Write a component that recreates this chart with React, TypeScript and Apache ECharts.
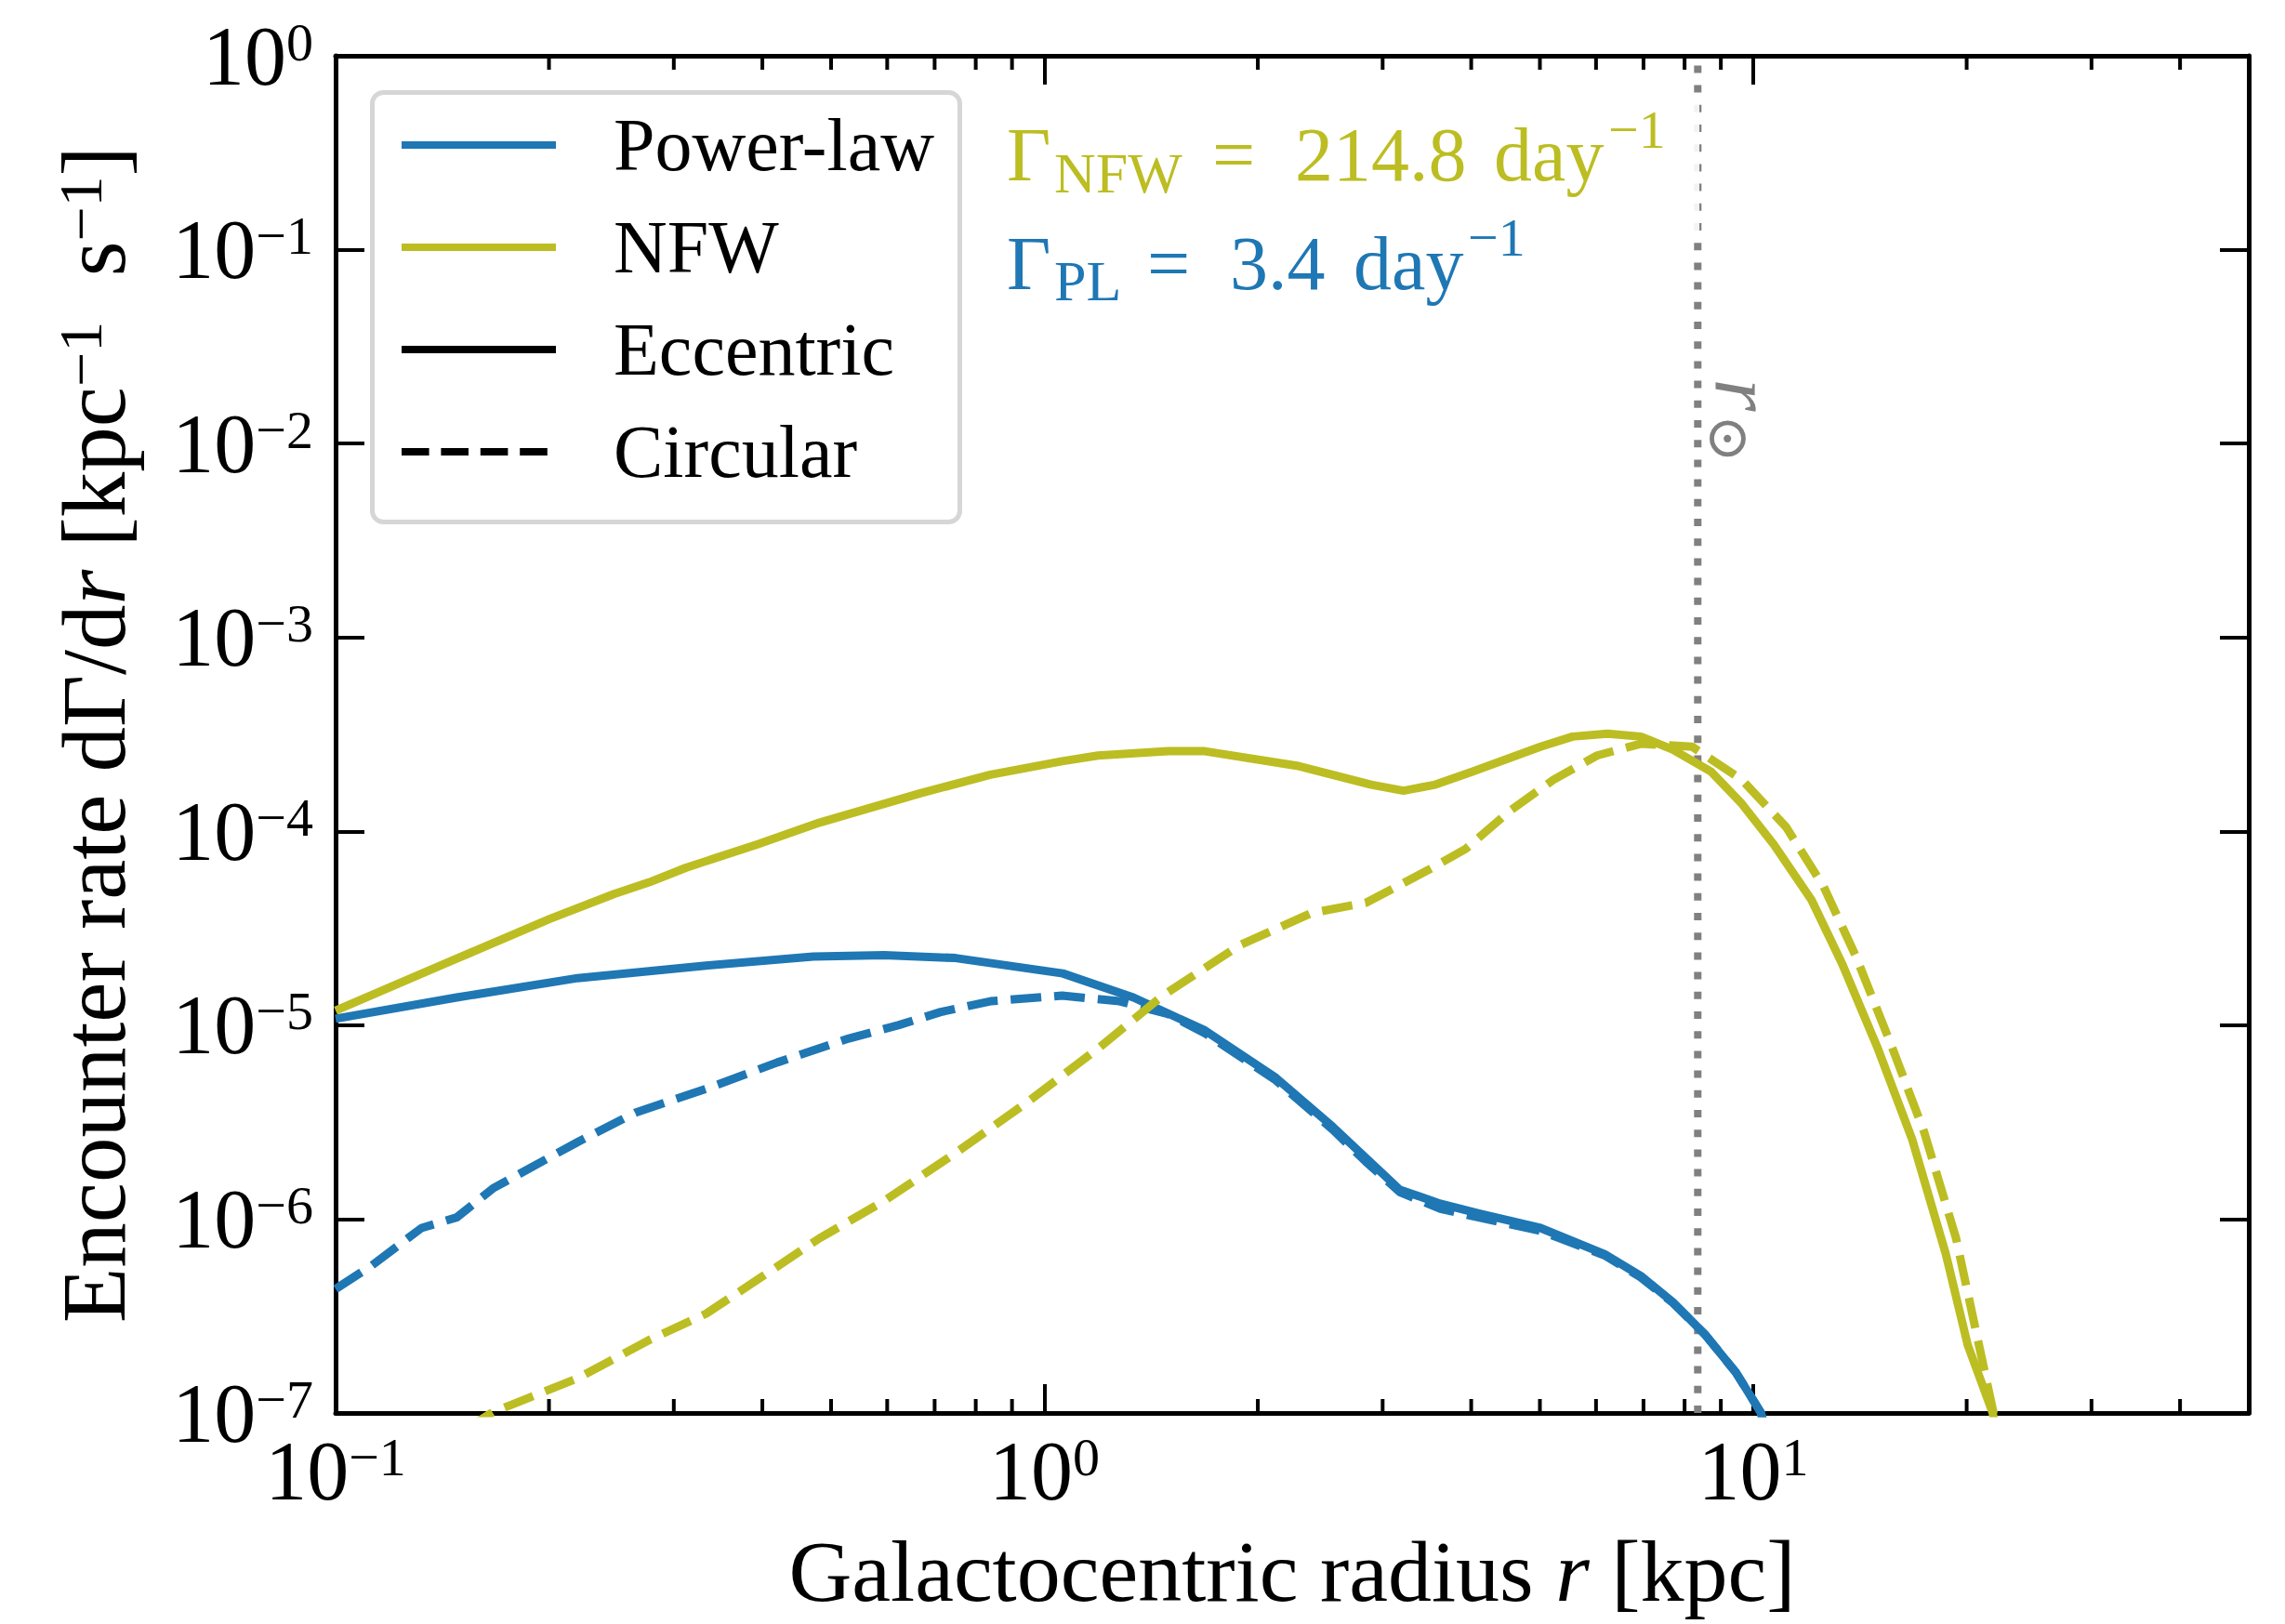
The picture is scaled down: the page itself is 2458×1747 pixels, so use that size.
import React, { useEffect, useRef } from 'react';
import * as echarts from 'echarts';

const FONT = '"Liberation Serif", "DejaVu Serif", serif';
const BLUE = '#1f77b4';
const OLIVE = '#bcbd22';

// ---- data (r in kpc, rate in kpc^-1 s^-1) ----
const R_PL_ECC = [0.1, 0.1482, 0.2196, 0.333, 0.472, 0.594, 0.749, 1.061, 1.335, 1.684, 2.12, 2.55, 2.84, 3.17, 3.62, 4.1, 5.01, 6.17, 6.94, 7.7, 8.54, 9.45, 10.24, 10.49];
const V_PL_ECC = [1.08e-5, 1.39e-5, 1.75e-5, 2.03e-5, 2.26e-5, 2.3e-5, 2.22e-5, 1.85e-5, 1.39e-5, 9.4e-6, 5.36e-6, 3.0e-6, 2.07e-6, 1.42e-6, 1.2e-6, 1.07e-6, 9.0e-7, 6.6e-7, 5.09e-7, 3.73e-7, 2.55e-7, 1.62e-7, 1.01e-7, 7.6e-8];

const R_PL_CIRC = [0.1, 0.1126, 0.1322, 0.1482, 0.1667, 0.2196, 0.2647, 0.333, 0.42, 0.53, 0.622, 0.714, 0.839, 1.059, 1.276, 1.496, 1.684, 2.12, 2.55, 2.84, 3.17, 3.62, 4.1, 5.01, 6.17, 6.94, 7.7, 8.54, 9.45, 10.24, 10.49];
const V_PL_CIRC = [4.36e-7, 5.78e-7, 9.0e-7, 1.02e-6, 1.44e-6, 2.5e-6, 3.54e-6, 4.69e-6, 6.43e-6, 8.55e-6, 1.0e-5, 1.17e-5, 1.33e-5, 1.42e-5, 1.33e-5, 1.14e-5, 9.1e-6, 5.2e-6, 2.9e-6, 1.98e-6, 1.38e-6, 1.13e-6, 1.02e-6, 8.7e-7, 6.5e-7, 5.0e-7, 3.7e-7, 2.55e-7, 1.62e-7, 1.01e-7, 7.6e-8];

const R_NFW_ECC = [0.1, 0.1454, 0.2007, 0.247, 0.277, 0.312, 0.393, 0.482, 0.668, 0.839, 1.059, 1.19, 1.496, 1.684, 2.27, 2.89, 3.21, 3.56, 4.01, 5.01, 5.56, 6.23, 6.94, 7.7, 8.72, 9.63, 10.69, 12.08, 13.35, 14.96, 16.76, 18.69, 20.07, 21.75, 22.4];
const V_NFW_ECC = [1.19e-5, 2.14e-5, 3.54e-5, 4.75e-5, 5.46e-5, 6.49e-5, 8.55e-5, 1.11e-4, 1.57e-4, 1.96e-4, 2.3e-4, 2.46e-4, 2.59e-4, 2.59e-4, 2.18e-4, 1.74e-4, 1.62e-4, 1.74e-4, 2.03e-4, 2.73e-4, 3.08e-4, 3.19e-4, 3.08e-4, 2.64e-4, 2.03e-4, 1.39e-4, 8.55e-5, 4.43e-5, 2.07e-5, 7.71e-6, 2.57e-6, 6.6e-7, 2.24e-7, 1.01e-7, 5.9e-8];

const R_NFW_CIRC = [0.153, 0.1667, 0.2196, 0.277, 0.333, 0.401, 0.482, 0.594, 0.749, 0.945, 1.19, 1.468, 1.887, 2.38, 2.84, 3.48, 3.93, 4.53, 5.23, 6.02, 6.94, 8.2, 9.63, 11.13, 12.56, 13.93, 15.58, 17.41, 19.32, 21.81, 22.4];
const V_NFW_CIRC = [8.3e-8, 1.01e-7, 1.51e-7, 2.38e-7, 3.25e-7, 5.09e-7, 7.98e-7, 1.24e-6, 2.19e-6, 4.0e-6, 7.58e-6, 1.42e-5, 2.59e-5, 3.79e-5, 4.28e-5, 6.32e-5, 8.12e-5, 1.27e-4, 1.85e-4, 2.46e-4, 2.83e-4, 2.73e-4, 1.85e-4, 1.05e-4, 5.21e-5, 2.3e-5, 8.26e-6, 2.83e-6, 7.98e-7, 1.01e-7, 5.9e-8];

const R_SUN = 8.35;
const X_MIN = 0.1;
const X_MAX = 50;
const Y_MIN = 1e-7;
const Y_MAX = 1;
const X_TICK_EXPONENTS = [-1, 0, 1];
const Y_TICK_EXPONENTS = [-7, -6, -5, -4, -3, -2, -1, 0];
const X_MINOR = [0.2, 0.3, 0.4, 0.5, 0.6, 0.7, 0.8, 0.9, 2, 3, 4, 5, 6, 7, 8, 9, 20, 30, 40];
const LEGEND_NAMES = ['Power-law', 'NFW', 'Eccentric', 'Circular'];
const GAMMA_NFW = '214.8';
const GAMMA_PL = '3.4';

const pairs = (r: number[], v: number[]) => r.map((x, i) => [x, v[i]]);

const expLabel = (allowed: number[]) => (v: number) => {
  const e = Math.log10(v);
  const k = Math.round(e);
  if (Math.abs(e - k) > 1e-6 || allowed.indexOf(k) < 0) return '';
  const s = k < 0 ? '\u2212' + -k : String(k);
  return `{b|10}{s|${s}}`;
};

const labelRich = {
  b: { fontSize: 90, lineHeight: 88, fontFamily: FONT, color: '#000' },
  s: { fontSize: 58, lineHeight: 40, verticalAlign: 'top', fontFamily: FONT, color: '#000' },
};

const DASH = [29.6, 12.8];
const LW = 8;
const LW_DATA = 9;
const DASH_DATA = [33, 14];

export default function App() {
  const ref = useRef<HTMLDivElement>(null);
  useEffect(() => {
    document.body.style.margin = '0';
    const chart = echarts.init(ref.current!, null, { renderer: 'svg' });

    const axisCommonX = {
      type: 'log',
      logBase: 10,
      min: X_MIN,
      max: X_MAX,
      splitLine: { show: false },
      axisLine: { show: true, onZero: false, lineStyle: { color: '#000', width: 5 } },
      axisTick: { show: true, inside: true, length: 31, lineStyle: { color: '#000', width: 4 } },
      minorTick: { show: false },
    };
    const axisCommonY = {
      type: 'log',
      logBase: 10,
      min: Y_MIN,
      max: Y_MAX,
      splitLine: { show: false },
      axisLine: { show: true, onZero: false, lineStyle: { color: '#000', width: 5 } },
      axisTick: { show: true, inside: true, length: 31, lineStyle: { color: '#000', width: 4 } },
      minorTick: { show: false },
    };

    const gText = (text: string, x: number, y: number, size: number, color: string, extra: any = {}) => ({
      type: 'text',
      x,
      y,
      z: 101,
      style: { text, fontSize: size, fontFamily: FONT, fill: color, align: 'left', verticalAlign: 'middle', ...extra },
    });

    const option: any = {
      animation: false,
      backgroundColor: '#fff',
      grid: { left: 361, right: 39, top: 60, bottom: 227, containLabel: false },
      xAxis: [
        {
          ...axisCommonX,
          position: 'bottom',
          axisLabel: { formatter: expLabel(X_TICK_EXPONENTS), margin: 18, rich: labelRich },
          name: '{n|Galactocentric radius }{i|r}{n| [kpc]}',
          nameLocation: 'middle',
          nameGap: 123,
          nameTextStyle: {
            rich: {
              n: { fontSize: 94, lineHeight: 94, fontFamily: FONT, color: '#000' },
              i: { fontSize: 94, lineHeight: 94, fontFamily: FONT, fontStyle: 'italic', color: '#000' },
            },
          },
        },
        { ...axisCommonX, position: 'top', axisLabel: { show: false } },
      ],
      yAxis: [
        {
          ...axisCommonY,
          position: 'left',
          axisLabel: { formatter: expLabel(Y_TICK_EXPONENTS), margin: 24, rich: labelRich },
          name: '{n|Encounter rate d\u0393/d}{i|r}{n| [kpc}{s|\u22121}{n|  s}{s|\u22121}{n|]}',
          nameLocation: 'middle',
          nameRotate: 90,
          nameGap: 212,
          nameTextStyle: {
            rich: {
              n: { fontSize: 97, lineHeight: 96, fontFamily: FONT, color: '#000' },
              i: { fontSize: 97, lineHeight: 96, fontFamily: FONT, fontStyle: 'italic', color: '#000' },
              s: { fontSize: 66, lineHeight: 46, verticalAlign: 'top', fontFamily: FONT, color: '#000' },
            },
          },
        },
        { ...axisCommonY, position: 'right', axisLabel: { show: false } },
      ],
      legend: {
        data: LEGEND_NAMES,
        orient: 'vertical',
        left: 400.5,
        top: 99.5,
        padding: [16.5, 27.5, 35.5, 27.5],
        itemWidth: 166,
        itemHeight: 20,
        itemGap: 30,
        selectedMode: false,
        backgroundColor: 'rgba(255,255,255,0.8)',
        borderColor: 'rgba(204,204,204,0.8)',
        borderWidth: 5,
        borderRadius: 12,
        lineStyle: { width: LW },
        itemStyle: { opacity: 0 },
        formatter: (name: string) => `{g| }{t|${name}}`,
        textStyle: {
          fontSize: 80,
          fontFamily: FONT,
          color: '#000',
          rich: {
            g: { width: 57, fontSize: 80, lineHeight: 90 },
            t: { fontSize: 80, lineHeight: 90, fontFamily: FONT, color: '#000' },
          },
        },
      },
      series: [
        {
          type: 'line',
          name: 'sun',
          data: [[R_SUN, Y_MIN], [R_SUN, Y_MAX]],
          showSymbol: false,
          symbol: 'none',
          silent: true,
          lineStyle: { color: '#808080', width: 8, type: [8, 13.2], cap: 'butt' },
          z: 1,
        },
        {
          type: 'line',
          name: 'Power-law',
          data: pairs(R_PL_ECC, V_PL_ECC),
          showSymbol: false,
          symbol: 'none',
          color: BLUE,
          lineStyle: { color: BLUE, width: LW_DATA, join: 'round' },
          z: 2,
        },
        {
          type: 'line',
          name: 'Power-law circular',
          data: pairs(R_PL_CIRC, V_PL_CIRC),
          showSymbol: false,
          symbol: 'none',
          color: BLUE,
          lineStyle: { color: BLUE, width: LW_DATA, type: DASH_DATA },
          z: 2,
        },
        {
          type: 'line',
          name: 'NFW',
          data: pairs(R_NFW_ECC, V_NFW_ECC),
          showSymbol: false,
          symbol: 'none',
          color: OLIVE,
          lineStyle: { color: OLIVE, width: LW_DATA, join: 'round' },
          z: 3,
        },
        {
          type: 'line',
          name: 'NFW circular',
          data: pairs(R_NFW_CIRC, V_NFW_CIRC),
          showSymbol: false,
          symbol: 'none',
          color: OLIVE,
          lineStyle: { color: OLIVE, width: LW_DATA, type: DASH_DATA },
          z: 3,
        },
        {
          type: 'line',
          name: 'Eccentric',
          data: [],
          symbol: 'none',
          color: '#000',
          lineStyle: { color: '#000', width: LW },
        },
        {
          type: 'line',
          name: 'Circular',
          data: [],
          symbol: 'none',
          color: '#000',
          lineStyle: { color: '#000', width: LW, type: DASH },
        },
        {
          type: 'custom',
          name: 'minor ticks',
          silent: true,
          clip: false,
          data: X_MINOR.map((x) => [x, Y_MIN]),
          renderItem: (params: any, api: any) => {
            const x = api.value(0);
            const pb = api.coord([x, Y_MIN]);
            const pt = api.coord([x, Y_MAX]);
            const st = { stroke: '#000', lineWidth: 4 };
            return {
              type: 'group',
              children: [
                { type: 'line', shape: { x1: pb[0], y1: pb[1], x2: pb[0], y2: pb[1] - 15 }, style: st },
                { type: 'line', shape: { x1: pt[0], y1: pt[1], x2: pt[0], y2: pt[1] + 15 }, style: st },
              ],
            };
          },
          z: 5,
        },
      ],
      graphic: [
        { type: 'rect', z: 100, shape: { x: 1066, y: 105, width: 762, height: 145 }, style: { fill: 'rgba(255,255,255,0.9)' } },
        // Gamma_NFW line
        gText('\u0393', 1083, 166, 82, OLIVE),
        gText('NFW', 1134, 186, 62, OLIVE),
        gText('=', 1304, 166, 82, OLIVE),
        gText(GAMMA_NFW, 1393, 166, 82, OLIVE),
        gText('day', 1607, 166, 82, OLIVE),
        gText('\u22121', 1730, 139, 58, OLIVE),
        // Gamma_PL line
        gText('\u0393', 1083, 283, 82, BLUE),
        gText('PL', 1134, 302, 62, BLUE),
        gText('=', 1234, 283, 82, BLUE),
        gText(GAMMA_PL, 1323, 283, 82, BLUE),
        gText('day', 1456, 283, 82, BLUE),
        gText('\u22121', 1579, 255, 58, BLUE),
        // r_sun label (rotated)
        {
          type: 'text', x: 1876, y: 425, rotation: -Math.PI / 2, z: 101,
          style: { text: 'r', fontSize: 90, fontStyle: 'italic', fontFamily: FONT, fill: '#808080', align: 'center', verticalAlign: 'middle' },
        },
        {
          type: 'text', x: 1860, y: 472, rotation: -Math.PI / 2, z: 101,
          style: { text: '\u2299', fontSize: 62, fontFamily: '"DejaVu Serif", serif', fill: '#808080', align: 'center', verticalAlign: 'middle' },
        },
      ],
    };

    chart.setOption(option);
    return () => chart.dispose();
  }, []);

  return (
    <div
      ref={ref}
      style={{ position: 'absolute', left: 0, top: 0, width: 2458, height: 1747, background: '#fff', overflow: 'hidden' }}
    />
  );
}
